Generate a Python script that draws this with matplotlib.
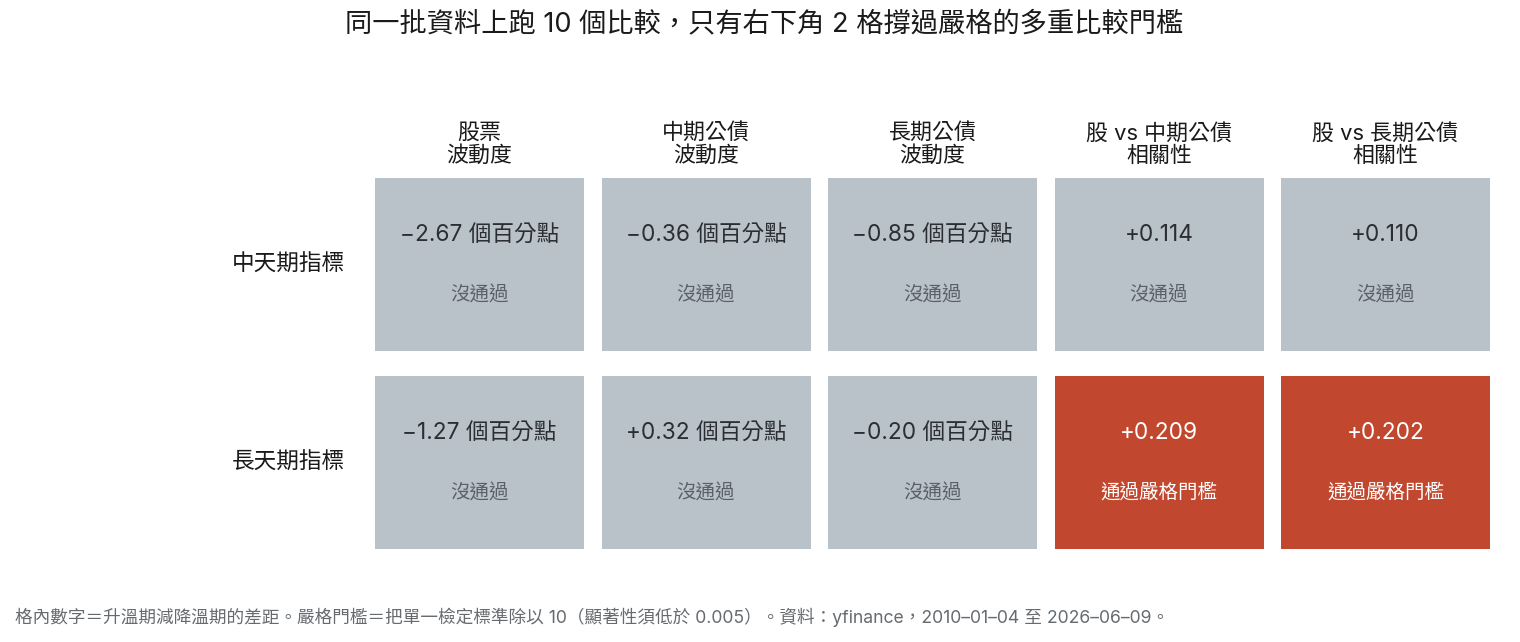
import matplotlib
matplotlib.use("Agg")
from matplotlib import pyplot as plt
from matplotlib.patches import Rectangle

plt.rcParams['font.family'] = ['Inter', 'Noto Sans CJK TC', 'DejaVu Sans']

col_labels = ["股票\n波動度", "中期公債\n波動度", "長期公債\n波動度", "股 vs 中期公債\n相關性", "股 vs 長期公債\n相關性"]
row_labels = ["中天期指標", "長天期指標"]

# diff values per row
mid_vals = [-2.67, -0.36, -0.85, 0.114, 0.110]
long_vals = [-1.27, 0.32, -0.20, 0.209, 0.202]
mid_pass = [False, False, False, False, False]
long_pass = [False, False, False, True, True]
is_pct = [True, True, True, False, False]

values = [mid_vals, long_vals]
passed = [mid_pass, long_pass]

grey = "#b9c1c9"
red = "#c1472e"

fig = plt.figure(figsize=(15.2, 6.42), dpi=100)
ax = fig.add_axes([375/1520, 93/642, 1115/1520, 371/642])

w = 209 / 226.5
h = 173 / 198
off = 29.5 / 198

def fmt(v, pct):
    s = "+" if v >= 0 else "\u2212"
    if pct:
        return f"{s}{abs(v):.2f} 個百分點"
    return f"{s}{abs(v):.3f}"

for i in range(len(row_labels)):
    for j in range(len(col_labels)):
        ok = passed[i][j]
        ax.add_patch(Rectangle((j - w/2, i - h/2), w, h, facecolor=red if ok else grey, edgecolor="none"))
        ax.text(j, i - off, fmt(values[i][j], is_pct[j]), ha="center", va="center",
                fontsize=16.3, color="white" if ok else "#2b2f33")
        ax.text(j, i + off + 1.5/198, "通過嚴格門檻" if ok else "沒通過", ha="center", va="center",
                fontsize=14, color="white" if ok else "#5a6068")

for j, lab in enumerate(col_labels):
    ax.text(j, -h/2 - 12/198, lab, ha="center", va="bottom", fontsize=15.8, color="#1a1a1a", linespacing=1.12)
for i, lab in enumerate(row_labels):
    ax.text(-w/2 - 30/226.5, i, lab, ha="right", va="center", fontsize=16.3, color="#1a1a1a")

ax.set_xlim(-w/2, len(col_labels) - 1 + w/2)
ax.set_ylim(len(row_labels) - 1 + h/2, -h/2)
ax.axis("off")

fig.text(764/1520, 1 - 25/642, "同一批資料上跑 10 個比較，只有右下角 2 格撐過嚴格的多重比較門檻",
         ha="center", va="center", fontsize=19.6, color="#1a1a1a")
fig.text(15/1520, 1 - 617/642,
         "格內數字＝升溫期減降溫期的差距。嚴格門檻＝把單一檢定標準除以 10（顯著性須低於 0.005）。資料：yfinance，2010\u201301\u201304 至 2026\u201306\u201309。",
         ha="left", va="center", fontsize=12.7, color="#666b70")

fig.savefig("out.png", dpi=100)
